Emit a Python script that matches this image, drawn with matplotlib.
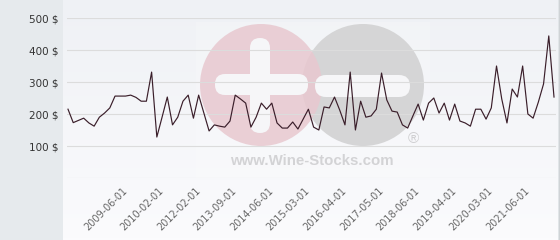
#!/usr/bin/env python3
"""Wine price history chart (auction prices in $) with the Wine-Stocks watermark."""
import matplotlib

matplotlib.use("Agg")
import matplotlib.pyplot as plt
import numpy as np
from matplotlib.colors import LinearSegmentedColormap
from matplotlib.patches import Circle, FancyBboxPatch, Rectangle

# price per sale, in order of the sale dates (one point per category)
PRICES = [
    215, 173, 180, 187, 172, 162, 190, 203, 219, 256,
    256, 256, 259, 252, 240, 240, 331, 128, 190, 253,
    166, 190, 240, 259, 187, 259, 203, 147, 166, 162,
    159, 178, 259, 247, 234, 159, 190, 234, 215, 234,
    172, 156, 156, 175, 153, 184, 215, 159, 150, 222,
    219, 253, 212, 166, 331, 150, 240, 190, 194, 215,
    328, 244, 209, 206, 166, 156, 194, 231, 181, 234,
    250, 203, 234, 181, 231, 178, 172, 162, 215, 215,
    184, 219, 350, 247, 172, 278, 253, 350, 200, 187,
    237, 294, 444, 253,
]
TICK_LABELS = [
    "2009-06-01", "2010-02-01", "2012-02-01", "2013-09-01",
    "2014-06-01", "2015-03-01", "2016-04-01", "2017-05-01",
    "2018-06-01", "2019-04-01", "2020-03-01", "2021-06-01",
]
TICK_START, TICK_STEP = 11, 7
Y_TICKS = [0, 100, 200, 300, 400, 500]

W, H = 560, 240
fig = plt.figure(figsize=(W / 100, H / 100), dpi=100)
fig.patch.set_facecolor("#e6eaed")

# backdrop and watermark, drawn in pixel coordinates
bg = fig.add_axes([0, 0, 1, 1], zorder=0)
grad = np.linspace(0, 1, 120)[:, None]
cmap = LinearSegmentedColormap.from_list("panel", ["#eff1f5", "#fbfbfd"])
bg.imshow(grad, extent=(63, 558, H, 0), cmap=cmap, aspect="auto")
bg.add_patch(Rectangle((196, 22), 234, 156, color="white", alpha=0.18, lw=0))
bg.add_patch(Circle((363, 85), 61, color="#d5d5d6", lw=0))
bg.add_patch(Circle((261, 85), 61, color="#e8c8cf", alpha=0.85, lw=0))
white = "#f6f6f8"
bg.add_patch(FancyBboxPatch((250, 38), 20, 95, boxstyle="round,pad=0,rounding_size=10",
                            color=white, lw=0))
bg.add_patch(FancyBboxPatch((215, 74), 93, 21, boxstyle="round,pad=0,rounding_size=10",
                            color=white, lw=0))
bg.add_patch(FancyBboxPatch((315, 75), 95, 22, boxstyle="round,pad=0,rounding_size=11",
                            color=white, lw=0))
bg.text(312, 161, "www.Wine-Stocks.com", ha="center", va="center", fontsize=10.8,
        fontweight="bold", family="Liberation Sans", color="#d3d3d5")
bg.text(413, 139, "\u00ae", ha="center", va="center", fontsize=11,
        family="Liberation Sans", color="#cfcfd1")
bg.plot([558.5, 558.5], [0, H], color="#cfd3d6", lw=1)
bg.set_xlim(0, W)
bg.set_ylim(H, 0)
bg.axis("off")

# chart area: index 0 at x=68 px, last index at x=554 px
ax = fig.add_axes([67 / W, 62 / H, 489 / W, 160 / H], zorder=1)
ax.set_facecolor("none")
x = np.arange(len(PRICES))
px = 486 / (len(PRICES) - 1)
ax.set_xlim(-1 / px, len(PRICES) - 1 + 2 / px)
ax.set_ylim(0, 500)

ax.plot(x, PRICES, color="#3a1e2a", lw=0.85, clip_on=False, zorder=3)

ax.set_yticks(Y_TICKS)
ax.set_yticklabels(["" if v == 0 else f"{v} $" for v in Y_TICKS])
ax.grid(axis="y", color="#dcdcdc", lw=0.8)
ax.set_axisbelow(True)

ticks = list(range(TICK_START, len(PRICES), TICK_STEP))[: len(TICK_LABELS)]
ax.set_xticks(ticks)
ax.set_xticklabels(TICK_LABELS, rotation=45, ha="right", va="center",
                   rotation_mode="anchor")

ax.tick_params(axis="y", length=0, pad=5.8, labelsize=7.5, labelcolor="#333333")
ax.tick_params(axis="x", length=0, pad=8, labelsize=7, labelcolor="#666666")
for spine in ax.spines.values():
    spine.set_visible(False)

fig.savefig("out.png", dpi=100)
plt.close(fig)
